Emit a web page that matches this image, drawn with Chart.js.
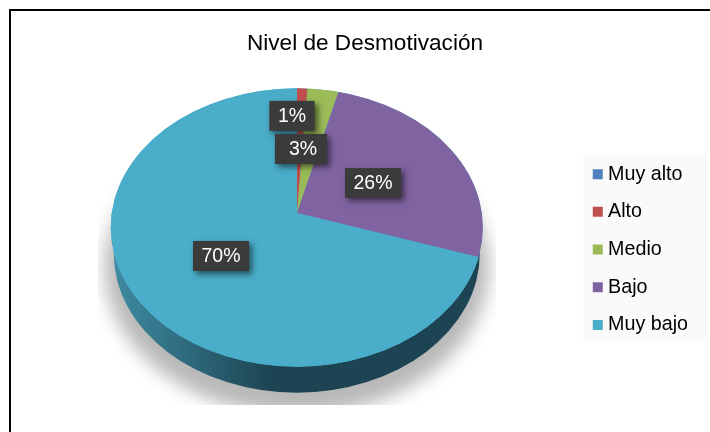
<!DOCTYPE html>
<html lang="es">
<head>
<meta charset="utf-8">
<title>Nivel de Desmotivación</title>
<style>
html,body{margin:0;padding:0;background:#fff;width:710px;height:432px;overflow:hidden}
#wrap{position:absolute;left:0;top:0;width:710px;height:432px}
#frame{position:absolute;left:9px;top:9px;width:720px;height:440px;border-top:2px solid #000;border-left:2px solid #000;box-sizing:border-box}
canvas{position:absolute;left:0;top:0}
</style>
<script src="https://cdn.jsdelivr.net/npm/chart.js@4"></script>
</head>
<body>
<div id="wrap">
<canvas id="c" width="710" height="432"></canvas>
<div id="frame"></div>
</div>
<script>
const chartTitle = "Nivel de Desmotivación";
const categories = ["Muy alto", "Alto", "Medio", "Bajo", "Muy bajo"];
const values = [0, 1, 3, 26, 70];
const colors = ["#4F81BD", "#C0504D", "#9BBB59", "#8064A2", "#4AADC9"];

const FONT = '"Liberation Sans", Arial, sans-serif';
const face = {cx: 296.8, cy: 227.5, rx: 186, ry: 139.2};
const apex = {x: 297, y: 213, reach: 215, squash: 0.75};
const depth = 26;
const labelNudge = [null, [-8.4, -16.5], [-10.8, 15.6], [-18.2, 8.9], [11, -4.4]];
const labelExtraWidth = [0, 0, 7, 0, 0];
const labelBoxShift = [0, 0, 2, 0, 0];

function mapArc(arc) {
  const k = apex.reach / arc.outerRadius;
  return {k, e: apex.x - k * arc.x, f: apex.y - k * apex.squash * arc.y};
}

const pie3d = {
  id: "pie3d",
  beforeDraw(chart) {
    const ctx = chart.ctx, boxes = chart.legend.legendHitBoxes;
    const top = boxes[0].top - 11, bottom = boxes[boxes.length - 1].top + boxes[0].height + 6;
    ctx.save();
    ctx.fillStyle = "#FAFAFA";
    ctx.fillRect(boxes[0].left - 14, top, 123, bottom - top);
    ctx.restore();
  },
  beforeDatasetsDraw(chart) {
    const ctx = chart.ctx;
    const arc = chart.getDatasetMeta(0).data[0];
    // floor shadow
    ctx.save();
    ctx.beginPath();
    ctx.rect(98, 175, 398, 230);
    ctx.clip();
    ctx.filter = "blur(9px)";
    ctx.fillStyle = "rgba(0,0,0,0.28)";
    ctx.beginPath();
    ctx.ellipse(face.cx, face.cy + depth + 14, face.rx + 6, face.ry + 8, 0, 0, Math.PI * 2);
    ctx.fill();
    ctx.restore();
    // side wall
    ctx.save();
    const g = ctx.createLinearGradient(face.cx - face.rx, 0, face.cx - 25, 0);
    g.addColorStop(0, "#3F8CA3");
    g.addColorStop(1, "#1C4452");
    ctx.fillStyle = g;
    ctx.beginPath();
    ctx.ellipse(face.cx, face.cy + depth, face.rx - 3, face.ry, 0, 0, Math.PI * 2);
    ctx.fill();
    ctx.beginPath();
    ctx.ellipse(face.cx, face.cy, face.rx, face.ry, 0, 0, Math.PI * 2);
    ctx.fillStyle = colors[4];
    ctx.fill();
    ctx.restore();
    // top face: slices radiate from the raised apex, clipped to the ellipse
    ctx.save();
    ctx.beginPath();
    ctx.ellipse(face.cx, face.cy, face.rx, face.ry, 0, 0, Math.PI * 2);
    ctx.clip();
    const m = mapArc(arc);
    ctx.transform(m.k, 0, 0, m.k * apex.squash, m.e, m.f);
  },
  afterDatasetsDraw(chart) {
    const ctx = chart.ctx;
    ctx.restore();
    const meta = chart.getDatasetMeta(0);
    const m = mapArc(meta.data[0]);
    ctx.save();
    ctx.font = "19.5px " + FONT;
    ctx.textBaseline = "middle";
    ctx.textAlign = "center";
    meta.data.forEach((arc, i) => {
      if (!values[i]) return;
      const p = arc.getCenterPoint();
      const x = m.k * p.x + m.e + labelNudge[i][0];
      const y = m.k * apex.squash * p.y + m.f + labelNudge[i][1];
      const t = values[i] + "%";
      const w = ctx.measureText(t).width + 17 + labelExtraWidth[i];
      ctx.save();
      ctx.shadowColor = "rgba(0,0,0,0.55)";
      ctx.shadowBlur = 6;
      ctx.shadowOffsetX = 3;
      ctx.shadowOffsetY = 3;
      ctx.fillStyle = "#3B3B3B";
      ctx.fillRect(x - w / 2 - labelBoxShift[i], y - 15, w, 30);
      ctx.restore();
      ctx.fillStyle = "#FFFFFF";
      ctx.fillText(t, x, y + 1);
    });
    ctx.restore();
  }
};

new Chart(document.getElementById("c"), {
  type: "pie",
  plugins: [pie3d],
  data: {
    labels: categories,
    datasets: [{data: values, backgroundColor: colors, borderWidth: 0, clip: false}]
  },
  options: {
    responsive: false,
    animation: false,
    layout: {padding: {left: 32, right: 12, top: 0, bottom: 6}},
    plugins: {
      tooltip: {enabled: false},
      title: {
        display: true,
        text: chartTitle,
        color: "#000",
        font: {family: FONT, size: 22.6, weight: "normal"},
        padding: {top: 30, bottom: 16}
      },
      legend: {
        position: "right",
        fullSize: false,
        labels: {
          color: "#000",
          font: {family: FONT, size: 19.7},
          usePointStyle: true,
          pointStyle: "rect",
          boxWidth: 1,
          boxHeight: 10,
          padding: 18
        }
      }
    }
  }
});
</script>
</body>
</html>
